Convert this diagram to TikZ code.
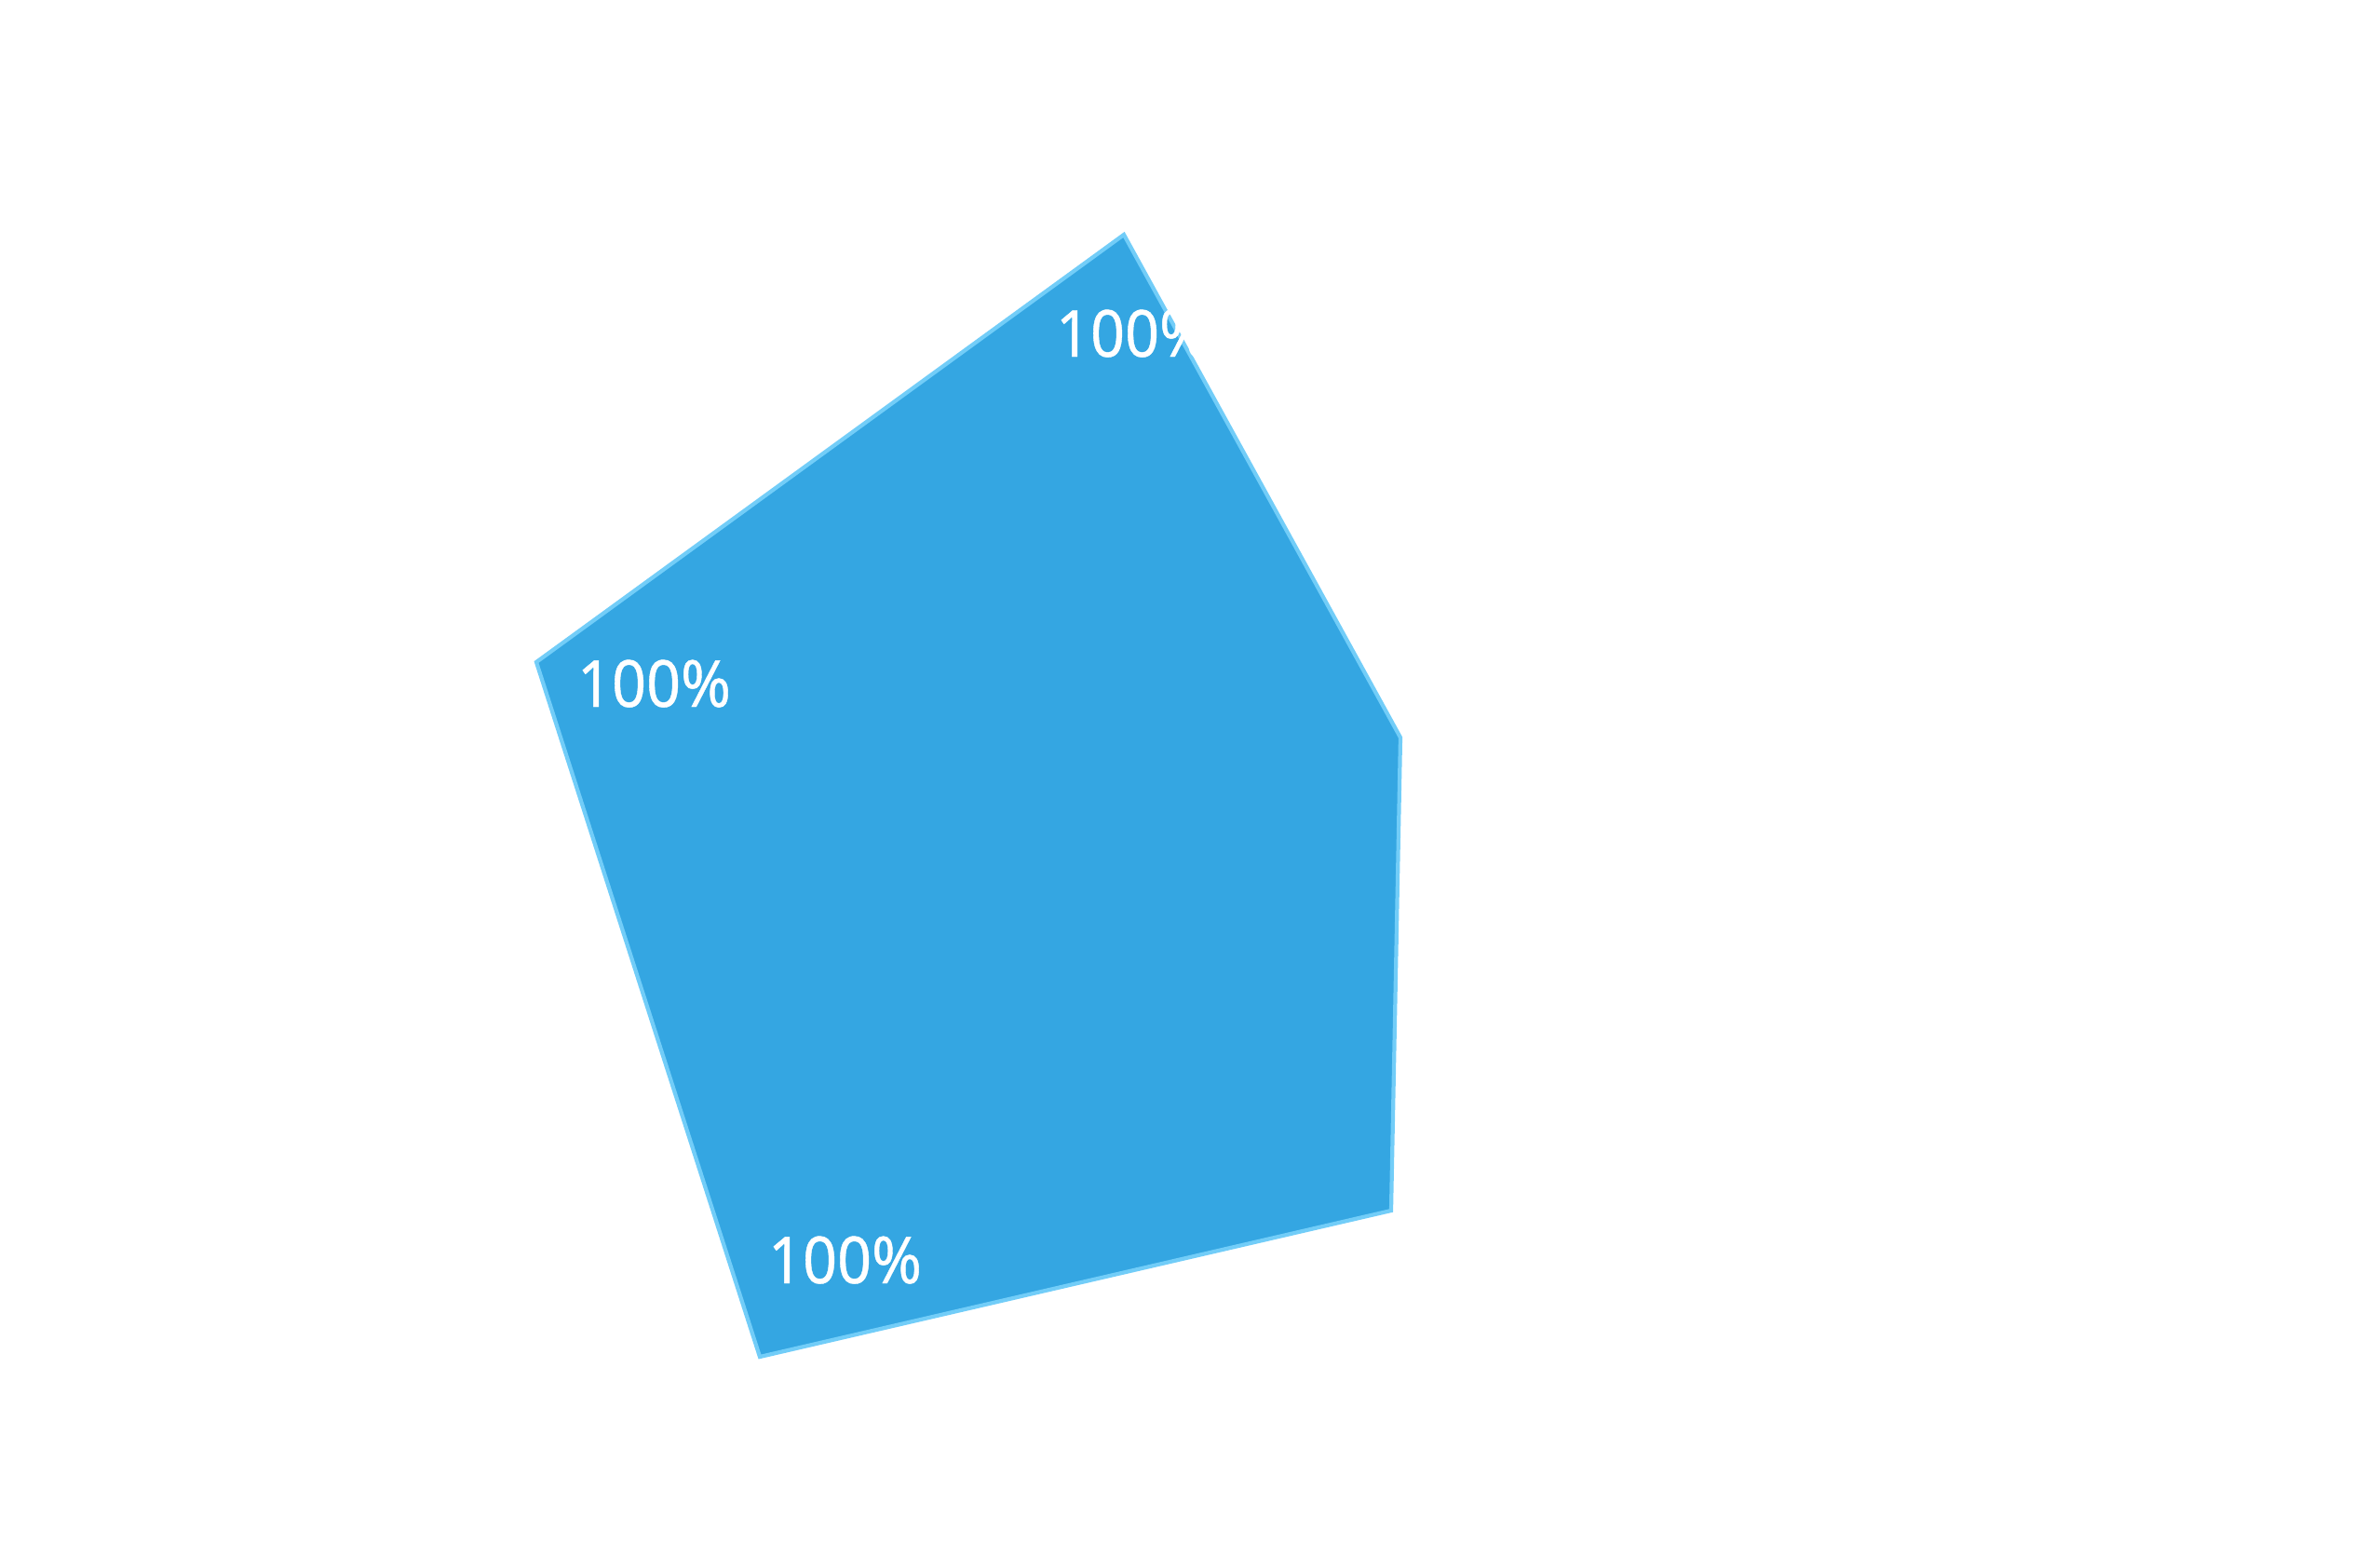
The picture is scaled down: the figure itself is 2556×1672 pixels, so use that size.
\documentclass[tikz,border=0pt]{standalone}
\usepackage{fontspec}
\newfontfamily\labelfont[FakeBold=0.6]{Noto Sans}
\definecolor{areafill}{HTML}{34A6E2}
\definecolor{areaedge}{HTML}{72CDF8}
\begin{document}
\begin{tikzpicture}[x=0.01cm,y=-0.01cm,
  valuelabel/.style={anchor=base west,inner sep=0pt,outer sep=0pt,text=white,
    font=\labelfont\fontsize{19.8pt}{22pt}\selectfont}]
\useasboundingbox (0,0) rectangle (2556,1672);
\coordinate (top) at (1207,252);
\coordinate (right) at (1504,792);
\coordinate (bright) at (1494,1300);
\coordinate (bleft) at (816,1457);
\coordinate (left) at (576,711);
\draw[areaedge,line width=1.2pt,fill=areafill,line join=miter]
  (top) -- (right) -- (bright) -- (bleft) -- (left) -- cycle;
\node[valuelabel] (ltop) at (1134,383) {\scalebox{0.93}[1]{100\%}};
\node[valuelabel] (lleft) at (620,759) {\scalebox{0.93}[1]{100\%}};
\node[valuelabel] (lbot) at (825,1378) {\scalebox{0.93}[1]{100\%}};
\end{tikzpicture}
\end{document}
